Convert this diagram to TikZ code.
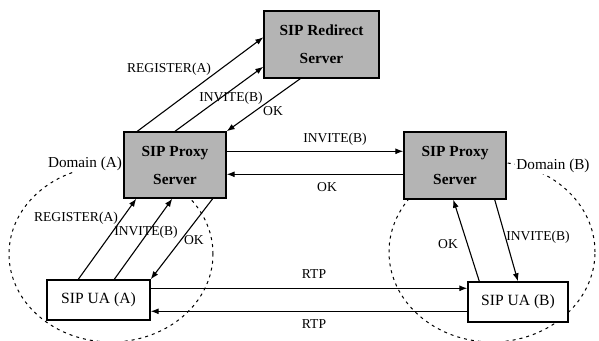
\documentclass[tikz,border=0pt]{standalone}
\usepackage{fontspec}
\setmainfont{Liberation Serif}
\usetikzlibrary{arrows.meta,calc}
\tikzset{
  srv/.style={draw=black, line width=0.7pt, fill=boxgray, align=center, font=\fontsize{7.7}{14}\selectfont\bfseries, inner sep=0pt},
  ua/.style={draw=black, line width=0.7pt, fill=white, font=\fontsize{7.8}{9}\selectfont, inner sep=0pt, minimum height=20pt},
  lbl/.style={font=\fontsize{6.8}{8}\selectfont, inner sep=0.5pt},
  dom/.style={font=\fontsize{7.6}{9}\selectfont, inner sep=0.5pt, fill=white},
  arr/.style={line width=0.55pt, -{Latex[length=4pt,width=3pt]}},
  domline/.style={line width=0.5pt, dash pattern=on 1.5pt off 2pt}
}
\definecolor{boxgray}{HTML}{B4B4B4}
\begin{document}
\begin{tikzpicture}[x=0.5pt,y=-0.5pt]
\useasboundingbox (0,0) rectangle (599,341);
% domains
\draw[domline] (111,254) ellipse [x radius=51pt, y radius=44pt];
\draw[domline] (492,252) ellipse [x radius=51.5pt, y radius=45pt];
% boxes
\node[srv, minimum width=57.5pt, minimum height=33.5pt] (red) at (321.5,44.5) {SIP Redirect\\Server};
\node[srv, minimum width=51pt, minimum height=33pt] (pa) at (175,165) {SIP Proxy\\Server};
\node[srv, minimum width=51pt, minimum height=33.5pt] (pb) at (455,165.5) {SIP Proxy\\Server};
\node[ua, minimum width=51.5pt] (uaa) at (98.5,300) {SIP UA (A)};
\node[ua, minimum width=50pt] (uab) at (518,302) {SIP UA (B)};
% domain labels
\node[dom] (da) at (85,164) {Domain (A)};
\node[dom] (db) at (553,166) {Domain (B)};
% proxy A <-> redirect
\draw[arr] ([xshift=7pt]pa.north west) -- ([yshift=-13.5pt]red.north west);
\draw[arr] (pa.north) -- ([yshift=6pt]red.south west);
\draw[arr] ([xshift=18.5pt]red.south west) -- (pa.north east);
% proxy A <-> proxy B
\draw[arr] ([yshift=-10pt]pa.north east) coordinate (i1) -- (i1 -| pb.west);
\draw[arr] ([yshift=-21.5pt]pb.north west) coordinate (o1) -- (o1 -| pa.east);
% UA A <-> proxy A
\draw[arr] ([xshift=16pt]uaa.north west) -- ([xshift=6.5pt]pa.south west);
\draw[arr] ([xshift=34pt]uaa.north west) -- ([xshift=24.5pt]pa.south west);
\draw[arr] ([xshift=-7pt]pa.south east) -- (uaa.north east);
% RTP
\draw[arr] ([yshift=-4.5pt]uaa.north east) coordinate (r1) -- (r1 -| uab.west);
\draw[arr] ([yshift=-15pt]uab.north west) coordinate (r2) -- (r2 -| uaa.east);
% UA B <-> proxy B
\draw[arr] ([xshift=6pt]uab.north west) -- ([xshift=25pt]pb.south west);
\draw[arr] ([xshift=-6pt]pb.south east) -- (uab.north);
% labels
\node[lbl] (l1) at (169,69) {REGISTER(A)};
\node[lbl] (l2) at (231,98) {INVITE(B)};
\node[lbl] (l3) at (273,111) {OK};
\node[lbl] (l4) at (335,139) {INVITE(B)};
\node[lbl] (l5) at (327,187) {OK};
\node[lbl] (l6) at (76,218) {REGISTER(A)};
\node[lbl] (l7) at (146,232) {INVITE(B)};
\node[lbl] (l8) at (194,240) {OK};
\node[lbl] (l9) at (314,274) {RTP};
\node[lbl] (l10) at (314,324) {RTP};
\node[lbl] (l11) at (448,244) {OK};
\node[lbl] (l12) at (538,237) {INVITE(B)};
\end{tikzpicture}
\end{document}
